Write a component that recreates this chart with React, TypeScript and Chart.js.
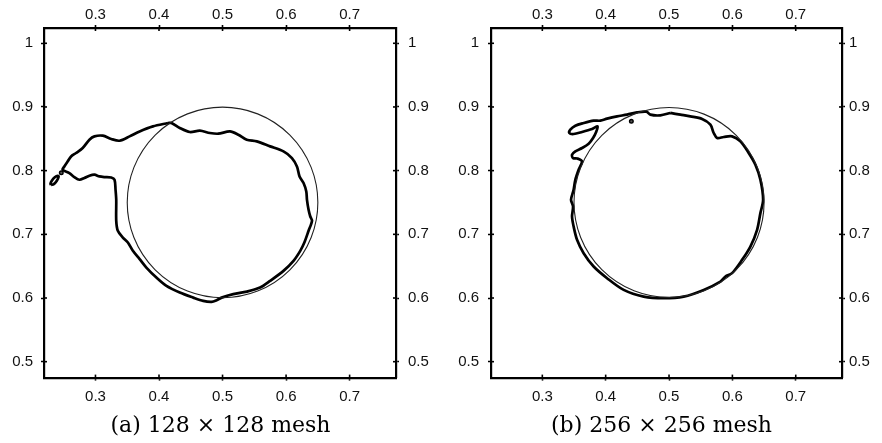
import React, { useEffect, useRef } from "react";
import { Chart, registerables } from "chart.js";

Chart.register(...registerables);

// ---- axis data ----
const X_MIN = 0.219;
const X_MAX = 0.773;
const Y_MIN = 0.475;
const Y_MAX = 1.024;
const X_TICKS = [0.3, 0.4, 0.5, 0.6, 0.7];
const Y_TICKS = [0.5, 0.6, 0.7, 0.8, 0.9, 1];

// ---- reference (exact) interface: circle ----
const CIRCLE_CENTER: [number, number] = [0.5, 0.75];
const CIRCLE_RADIUS = 0.15;

// ---- (a) 128 x 128 mesh: computed interface ----
const A_INTERFACE: [number, number][] = [
  [0.4142, 0.8748], [0.4196, 0.8748], [0.4327, 0.867], [0.4485, 0.8607], [0.4643, 0.8627],
  [0.4801, 0.8591], [0.4932, 0.858], [0.5117, 0.8616], [0.5248, 0.8564], [0.5381, 0.8486],
  [0.5539, 0.8459], [0.5749, 0.8381], [0.5959, 0.8302], [0.6092, 0.8198], [0.6171, 0.8066],
  [0.6212, 0.7909], [0.6275, 0.7805], [0.6318, 0.7673], [0.6329, 0.7542], [0.6354, 0.7385],
  [0.6381, 0.728], [0.6408, 0.7212], [0.6354, 0.7055], [0.6286, 0.6866], [0.6223, 0.674],
  [0.6117, 0.6583], [0.5959, 0.6426], [0.5749, 0.6269], [0.5591, 0.6164], [0.5381, 0.6101],
  [0.5169, 0.606], [0.4986, 0.6006], [0.4907, 0.5965], [0.4828, 0.5939], [0.4695, 0.5954],
  [0.4537, 0.6006], [0.4327, 0.6085], [0.4117, 0.619], [0.3959, 0.6321], [0.3801, 0.6478],
  [0.3695, 0.661], [0.3589, 0.6741], [0.351, 0.6871], [0.3431, 0.695], [0.3352, 0.7055],
  [0.3327, 0.7212], [0.3327, 0.7542], [0.3316, 0.77], [0.33, 0.7857], [0.3248, 0.7893],
  [0.3142, 0.7899], [0.3063, 0.7909], [0.2984, 0.7936], [0.2905, 0.792], [0.2826, 0.7884],
  [0.2747, 0.7857], [0.2668, 0.7899], [0.2589, 0.7962], [0.2483, 0.8014], [0.251, 0.8066],
  [0.2562, 0.8145], [0.2616, 0.8223], [0.2695, 0.8277], [0.2799, 0.8355], [0.2905, 0.8486],
  [0.2984, 0.8538], [0.3115, 0.8549], [0.3248, 0.8497], [0.3379, 0.847], [0.3537, 0.8538],
  [0.3695, 0.8616], [0.3905, 0.8695], [0.4142, 0.8748],
];
const A_DROPLET: [number, number][] = [
  [0.23, 0.7774], [0.2344, 0.7789], [0.2392, 0.7841], [0.242, 0.7904], [0.2408, 0.792],
  [0.236, 0.7896], [0.2313, 0.7841], [0.2292, 0.7794], [0.23, 0.7774],
];
const A_SPECK: [number, number][] = [[0.2462, 0.7965]];

// ---- (b) 256 x 256 mesh: computed interface ----
const B_INTERFACE: [number, number][] = [
  [0.5021, 0.8906], [0.5179, 0.8879], [0.5337, 0.8852], [0.5522, 0.8811], [0.5653, 0.8722],
  [0.5705, 0.8591], [0.5759, 0.8513], [0.5863, 0.8528], [0.5995, 0.8538], [0.6126, 0.8459],
  [0.6257, 0.8277], [0.6363, 0.8093], [0.6442, 0.7857], [0.6485, 0.7542], [0.6442, 0.7333],
  [0.639, 0.7071], [0.6284, 0.6808], [0.6153, 0.6599], [0.5995, 0.639], [0.589, 0.6337],
  [0.5811, 0.6258], [0.5547, 0.6127], [0.5231, 0.6022], [0.4915, 0.5997], [0.46, 0.6022],
  [0.4284, 0.6127], [0.4022, 0.6311], [0.381, 0.6494], [0.3652, 0.6704], [0.3548, 0.6914],
  [0.3494, 0.7123], [0.3469, 0.728], [0.3485, 0.7437], [0.3453, 0.7542], [0.3494, 0.77],
  [0.3521, 0.7857], [0.3573, 0.8014], [0.3627, 0.8145], [0.3555, 0.819], [0.3485, 0.8198],
  [0.3469, 0.825], [0.3521, 0.8302], [0.3627, 0.8355], [0.3731, 0.8423], [0.3801, 0.8513],
  [0.3853, 0.8616], [0.3873, 0.8695], [0.3785, 0.8654], [0.3627, 0.8607], [0.3494, 0.8575],
  [0.3426, 0.8591], [0.3442, 0.8643], [0.3521, 0.8706], [0.3652, 0.8748], [0.381, 0.8785],
  [0.3916, 0.8785], [0.4022, 0.8816], [0.418, 0.8852], [0.4337, 0.8879], [0.4495, 0.8915],
  [0.4642, 0.8926], [0.4705, 0.8879], [0.4863, 0.8868], [0.5021, 0.8906],
];
const B_SPECK: [number, number][] = [[0.4405, 0.8774]];

const CAPTION_A = "(a) 128 \u00d7 128 mesh";
const CAPTION_B = "(b) 256 \u00d7 256 mesh";

const toXY = (arr: [number, number][]) => arr.map(([x, y]) => ({ x, y }));

const innerTicks = {
  id: "innerTicks",
  afterDraw(chart: any) {
    const { ctx, chartArea: a } = chart;
    ctx.save();
    ctx.strokeStyle = "#000";
    ctx.lineWidth = 1.6;
    const len = 3;
    Object.values(chart.scales).forEach((s: any) => {
      s.ticks.forEach((t: any) => {
        const p = s.getPixelForValue(t.value);
        ctx.beginPath();
        if (s.position === "top") { ctx.moveTo(p, a.top); ctx.lineTo(p, a.top + len); }
        else if (s.position === "bottom") { ctx.moveTo(p, a.bottom); ctx.lineTo(p, a.bottom - len); }
        else if (s.position === "left") { ctx.moveTo(a.left, p); ctx.lineTo(a.left + len, p); }
        else { ctx.moveTo(a.right, p); ctx.lineTo(a.right - len, p); }
        ctx.stroke();
      });
    });
    ctx.restore();
  },
};

type PanelProps = {
  caption: string;
  curves: [number, number][][];
  specks: [number, number][];
  leftW: number;
  rightW: number;
  leftPad: number;
  rightPad: number;
};

function axis(position: string, ticksArr: number[], min: number, max: number, size: number, pad: number) {
  const horizontal = position === "top" || position === "bottom";
  return {
    type: "linear",
    position,
    min,
    max,
    afterBuildTicks: (s: any) => {
      s.ticks = ticksArr.map((v) => ({ value: v }));
    },
    afterFit: (s: any) => {
      if (horizontal) s.height = size;
      else s.width = size;
    },
    grid: {
      drawOnChartArea: false,
      drawTicks: true,
      tickLength: 3,
      tickWidth: 1.6,
      tickColor: "#000",
    },
    border: { display: true, color: "#000", width: 2.2 },
    ticks: {
      autoSkip: false,
      maxRotation: 0,
      padding: pad,
      color: "#111",
      font: { family: "'Liberation Sans', Arial, sans-serif", size: 15 },
      callback: (v: any) => String(v),
    },
  };
}

function Panel(props: PanelProps) {
  const ref = useRef<HTMLCanvasElement | null>(null);
  useEffect(() => {
    if (!ref.current) return;
    const circleRadius = (ctx: any) => {
      const s = ctx.chart.scales.x;
      return Math.abs(s.getPixelForValue(CIRCLE_CENTER[0] + CIRCLE_RADIUS) - s.getPixelForValue(CIRCLE_CENTER[0]));
    };
    const datasets: any[] = [
      {
        label: "exact",
        data: [{ x: CIRCLE_CENTER[0], y: CIRCLE_CENTER[1] }],
        showLine: false,
        pointStyle: "circle",
        pointRadius: circleRadius,
        pointHoverRadius: circleRadius,
        pointBorderWidth: 1.1,
        pointBorderColor: "#222",
        pointBackgroundColor: "rgba(0,0,0,0)",
      },
      ...props.curves.map((c, i) => ({
        label: "interface " + i,
        data: toXY(c),
        showLine: true,
        borderColor: "#000",
        borderWidth: 2.7,
        pointRadius: 0,
        tension: 0.3,
        fill: false,
      })),
      {
        label: "speck",
        data: toXY(props.specks),
        showLine: false,
        pointRadius: 1.8,
        pointBorderWidth: 1.4,
        pointBorderColor: "#000",
        pointBackgroundColor: "#555",
      },
    ];
    const chart = new Chart(ref.current, {
      type: "scatter",
      data: { datasets },
      options: {
        animation: false,
        responsive: false,
        events: [],
        layout: { padding: 0 },
        plugins: {
          legend: { display: false },
          tooltip: { enabled: false },
          title: {
            display: true,
            text: props.caption,
            position: "bottom",
            color: "#000",
            font: { family: "'DejaVu Serif', serif", size: 22, weight: "normal", lineHeight: 1.2 },
            padding: { top: 0, bottom: 4 },
          },
        },
        scales: {
          x: axis("bottom", X_TICKS, X_MIN, X_MAX, 35, 7),
          x2: axis("top", X_TICKS, X_MIN, X_MAX, 28, 1),
          y: axis("left", Y_TICKS, Y_MIN, Y_MAX, props.leftW, props.leftPad),
          y2: axis("right", Y_TICKS, Y_MIN, Y_MAX, props.rightW, props.rightPad),
        } as any,
      },
      plugins: [innerTicks],
    } as any);
    return () => chart.destroy();
  }, []);
  return <canvas ref={ref} width={441} height={443} style={{ display: "block", width: 441, height: 443 }} />;
}

export default function App() {
  return (
    <div style={{ position: "absolute", left: 0, top: 0, width: 882, height: 443, background: "#fff", display: "flex" }}>
      <Panel caption={CAPTION_A} curves={[A_INTERFACE, A_DROPLET]} specks={A_SPECK} leftW={44} rightW={45} leftPad={8} rightPad={9} />
      <Panel caption={CAPTION_B} curves={[B_INTERFACE]} specks={B_SPECK} leftW={50} rightW={40} leftPad={9} rightPad={4} />
    </div>
  );
}
